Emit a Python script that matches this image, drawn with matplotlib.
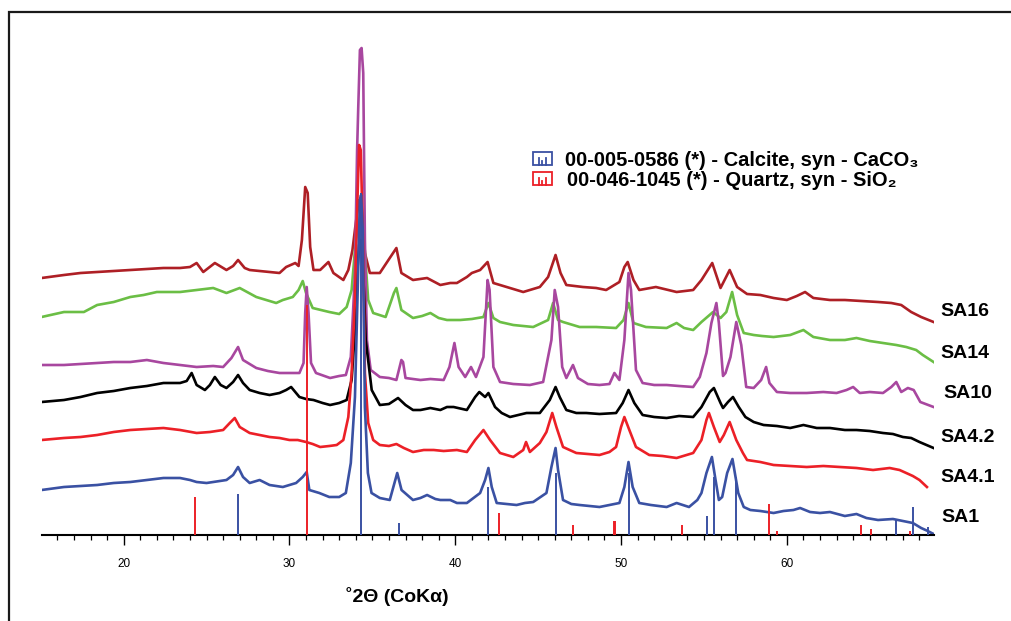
import numpy as np
import matplotlib
matplotlib.use("Agg")
import matplotlib.pyplot as plt
from matplotlib.patches import Rectangle
from matplotlib.lines import Line2D
from matplotlib.ticker import MultipleLocator

plt.rcParams["font.family"] = ["Liberation Sans", "DejaVu Sans"]

# ---------------- data ----------------
sample_names = ["SA16", "SA14", "SA10", "SA4.2", "SA4.1", "SA1"]
sample_colors = ["#AE1F25", "#6BBE45", "#A8479F", "#000000", "#EC2027", "#3A51A3"]
stack_offsets = [208, 170, 120, 83, 45, -5]

sa1_x = [15.05,16.4,17.4,18.4,19.4,20.4,21.4,22.4,23.4,24.0,24.4,25.0,25.4,26.2,26.6,26.9,27.2,27.6,28.2,28.8,
         29.6,30.4,30.8,31.04,31.2,31.8,32.4,33.0,33.4,33.7,33.95,34.1,34.25,34.32,34.42,34.55,34.73,34.95,35.45,36.05,
         36.3,36.5,36.76,37.45,37.9,38.3,38.8,39.1,39.7,40.1,40.7,41.5,41.8,42.0,42.2,42.5,43.1,43.7,44.2,44.7,
         45.5,45.8,46.05,46.2,46.5,47.0,47.5,48.1,48.7,49.3,49.9,50.2,50.45,50.7,51.1,51.8,52.75,53.35,54.1,54.6,
         54.85,55.15,55.48,55.7,55.9,56.1,56.4,56.72,57.07,57.4,57.8,58.4,59.2,59.8,60.4,60.8,61.4,62.0,62.6,63.5,
         64.2,64.8,65.5,66.4,67.0,67.6,68.1,68.5,68.85]
sa1_y = [50,53,54,55,57,58,60,62,62,60,58,57,58,60,65,73,63,57,60,55,
         53,57,63,68,50,47,43,43,47,77,143,240,340,345,310,133,67,47,42,40,
         55,67,50,40,42,45,41,40,40,37,37,47,60,72,53,37,36,35,37,38,
         47,73,92,70,40,36,35,34,33,35,37,53,78,53,37,35,33,37,33,40,
         47,67,83,60,40,43,67,81,47,33,30,29,27,29,30,32,28,27,28,24,
         26,22,20,21,19,17,12,9,6]

sa41_x = [15.05,16.4,17.4,18.4,19.4,20.4,21.4,22.4,23.4,24.4,25.2,26.0,26.4,26.7,27.0,27.6,28.2,28.8,29.4,30.0,
          30.5,31.0,31.4,31.85,32.4,32.85,33.25,33.55,33.75,33.95,34.1,34.2,34.3,34.45,34.55,34.75,35.05,35.45,36.0,36.45,
          36.9,37.45,38.1,38.7,39.3,40.1,40.7,41.2,41.7,42.1,42.7,43.5,44.1,44.27,44.5,45.1,45.5,45.85,46.1,46.5,
          47.3,48.0,48.7,49.3,49.7,50.0,50.2,50.5,50.9,51.7,52.5,53.35,54.35,54.85,55.15,55.3,55.6,55.95,56.2,56.55,
          56.95,57.35,57.6,58.4,59.2,60.2,61.2,62.2,63.2,64.2,65.2,66.2,66.8,67.2,67.6,68.0,68.45]
sa41_y = [50,52,53,55,58,60,61,62,60,57,58,60,67,72,63,57,55,53,52,50,
          50,48,46,43,44,45,50,73,117,190,290,345,340,240,117,67,50,45,44,46,
          42,38,40,40,39,40,38,50,60,50,37,33,40,48,38,47,58,77,63,43,
          37,36,35,38,43,63,73,60,43,35,34,32,37,50,70,77,63,48,55,68,
          50,37,30,28,25,24,23,24,23,22,20,22,20,17,14,10,3]

sa42_x = [15.05,16.4,17.4,18.4,19.4,20.4,21.4,22.4,23.4,23.8,24.1,24.4,24.9,25.2,25.5,25.85,26.2,26.6,26.9,27.2,
          27.6,28.2,28.8,29.4,29.8,30.1,30.6,31.0,31.45,32.0,32.45,33.0,33.45,33.75,33.95,34.1,34.2,34.3,34.45,34.6,
          34.96,35.45,36.0,36.55,37.0,37.45,37.9,38.5,39.1,39.5,39.9,40.7,41.2,41.45,41.8,42.0,42.4,42.8,43.3,44.3,
          45.1,45.7,46.05,46.3,46.7,47.3,47.9,48.7,49.7,50.1,50.45,50.8,51.3,52.0,52.75,53.5,54.35,54.85,55.35,55.6,
          56.0,56.15,56.45,56.75,57.1,57.5,58.0,58.6,59.4,60.2,61.0,61.8,62.6,63.5,64.2,65.0,65.8,66.4,67.0,67.5,
          68.0,68.85]
sa42_y = [50,52,55,59,61,64,66,69,69,71,79,67,62,67,75,67,64,70,77,69,
          62,59,57,59,62,65,55,53,52,49,47,49,52,72,122,182,207,212,179,112,
          62,47,48,54,47,42,42,44,42,45,45,42,55,60,55,59,45,39,35,39,
          39,52,65,55,42,39,39,38,39,49,62,49,37,35,34,36,35,45,60,64,
          49,44,50,55,45,35,30,27,26,24,27,24,24,22,22,21,19,18,15,14,
          10,4]

sa10_x = [15.05,16.4,17.4,18.4,19.4,20.4,21.4,22.4,23.4,24.4,25.4,26.0,26.5,26.9,27.2,28.0,28.7,29.4,30.0,30.6,
          30.85,30.95,31.04,31.15,31.3,31.6,32.45,33.0,33.4,33.7,33.95,34.08,34.15,34.25,34.35,34.45,34.55,34.67,34.9,35.45,
          36.0,36.45,36.75,36.85,37.0,37.9,38.5,39.3,39.65,39.95,40.2,40.6,40.95,41.25,41.7,41.95,42.07,42.3,42.7,43.5,
          44.5,45.3,45.8,46.0,46.2,46.45,46.7,47.1,47.4,48.0,48.7,49.3,49.6,49.9,50.2,50.45,50.6,50.9,51.3,52.0,
          52.75,53.5,54.35,54.75,55.15,55.45,55.75,55.9,56.15,56.3,56.6,56.95,57.25,57.55,58.0,58.45,58.75,58.95,59.4,60.2,
          61.2,62.2,63.0,63.6,64.0,64.4,65.0,65.8,66.3,66.6,66.9,67.3,67.65,68.05,68.85]
sa10_y = [50,50,51,52,53,53,55,52,50,48,49,48,57,68,55,47,44,42,42,42,
          52,102,128,102,52,42,37,39,40,58,142,265,308,365,367,342,175,75,45,38,
          37,35,55,53,37,35,36,35,48,72,48,38,48,38,58,135,125,48,33,31,
          30,33,75,125,108,48,37,50,37,31,30,31,42,35,75,142,125,45,32,30,
          30,29,28,38,62,92,112,92,39,42,58,93,70,28,27,35,48,32,23,22,
          22,23,22,25,28,22,23,22,28,33,23,27,25,13,8]

sa14_x = [15.05,16.4,17.6,18.4,19.4,20.4,21.2,22.0,23.4,24.4,25.4,26.2,27.0,28.0,28.6,29.2,29.6,30.2,30.55,30.8,
          31.0,31.4,32.4,33.0,33.45,33.75,34.0,34.3,34.5,34.75,35.05,35.8,36.3,36.45,36.75,37.45,38.0,38.5,39.0,39.5,
          40.3,41.0,41.7,42.0,42.3,42.7,43.5,44.7,45.6,45.9,46.2,46.5,47.5,48.5,49.7,50.15,50.45,50.75,51.5,52.75,
          53.35,53.8,54.35,54.85,55.55,56.0,56.35,56.7,57.0,57.4,58.0,58.5,59.2,60.2,61.0,61.6,62.6,63.5,64.2,65.0,
          65.8,66.6,67.2,67.8,68.2,68.85]
sa14_y = [48,53,53,60,63,68,70,73,73,75,77,72,77,68,65,62,65,68,75,84,
          72,57,53,51,58,75,125,153,125,65,52,48,72,77,55,47,49,52,47,45,
          45,46,48,62,47,43,40,38,45,62,45,43,38,38,37,45,62,42,38,37,
          42,37,35,43,53,47,53,73,50,32,30,29,28,30,35,28,25,25,27,24,
          22,20,18,15,10,3]

sa16_x = [15.05,16.4,17.4,18.4,19.4,20.4,21.4,22.4,23.4,24.0,24.4,24.8,25.5,26.2,26.6,26.9,27.3,27.6,28.2,28.8,
          29.4,29.8,30.35,30.55,30.75,30.95,31.1,31.25,31.45,31.85,32.35,32.65,33.25,33.55,33.8,34.0,34.2,34.35,34.55,34.85,
          35.45,36.25,36.45,36.75,37.45,38.3,39.1,39.7,40.1,40.7,41.0,41.5,41.95,42.3,43.3,44.1,45.1,45.6,46.05,46.35,
          46.7,47.7,48.5,49.1,49.9,50.2,50.4,50.75,51.1,52.1,53.35,54.35,54.85,55.5,56.0,56.55,57.0,57.6,58.4,59.2,
          60.0,60.6,61.1,61.6,62.6,63.5,64.5,65.5,66.3,66.9,67.5,68.1,68.85]
sa16_y = [49,52,54,55,56,57,58,59,59,60,64,55,64,57,61,67,59,57,56,55,
          54,60,64,61,87,140,134,80,57,57,65,54,47,57,77,104,127,122,74,54,
          54,74,79,54,47,49,42,44,44,50,54,57,65,44,39,35,40,50,72,54,
          42,40,39,37,45,60,65,47,37,40,35,37,47,64,39,57,40,33,32,29,
          27,31,35,29,27,27,26,25,24,22,15,10,5]

# reference patterns (2-theta, relative intensity %)
calcite_2theta = [26.9, 34.29, 36.62, 42.0, 46.08, 50.5, 55.2, 55.62, 56.92, 66.6, 67.6, 68.5]
calcite_rel = [12, 100, 3.5, 14, 18, 18, 5.5, 17, 17, 4.7, 8.2, 2.3]
quartz_2theta = [24.3, 31.04, 42.63, 47.08, 49.55, 49.65, 53.65, 58.9, 59.4, 64.5, 65.05, 67.4]
quartz_rel = [16.5, 100, 9.6, 4.3, 6, 6, 4.3, 13.5, 1.7, 4.3, 2.6, 1.7]

legend_labels = ["00-005-0586 (*) - Calcite, syn - CaCO\u2083",
                 "00-046-1045 (*) - Quartz, syn - SiO\u2082"]
x_label = "\u02da2\u0398 (CoK\u03b1)"
x_ticks = [20, 30, 40, 50, 60]

series_x = [sa16_x, sa14_x, sa10_x, sa42_x, sa41_x, sa1_x]
series_y = [sa16_y, sa14_y, sa10_y, sa42_y, sa41_y, sa1_y]

# ---------------- figure ----------------
W, H = 1012, 621
fig = plt.figure(figsize=(W / 100, H / 100), dpi=100)

def fx(px):
    return px / W

def fy(py):
    return 1 - py / H

ax = fig.add_axes([fx(41.6), fy(535), fx(934.4) - fx(41.6), fy(20) - fy(535)])
ax.set_xlim(15.05, 68.9)
ax.set_ylim(0, 515)
for s in ["left", "right", "top"]:
    ax.spines[s].set_visible(False)
ax.spines["bottom"].set_linewidth(1.5)
ax.set_yticks([])
ax.set_xticks(x_ticks)
ax.xaxis.set_minor_locator(MultipleLocator(1))
ax.tick_params(axis="x", which="major", length=7.5, width=1.0, labelsize=8.5, pad=9, direction="out")
ax.tick_params(axis="x", which="minor", length=3.8, width=0.9, direction="out")

for xs, ys, off, col in zip(series_x, series_y, stack_offsets, sample_colors):
    ax.plot(xs, np.array(ys) + off, color=col, lw=1.9, solid_joinstyle="round", zorder=2)

calcite_scale = 3.42
quartz_scale = 2.30
ax.vlines(calcite_2theta, 0, np.array(calcite_rel) * calcite_scale, colors="#3A51A3", lw=1.4, zorder=3)
ax.vlines(quartz_2theta, 0, np.array(quartz_rel) * quartz_scale, colors="#EC2027", lw=1.4, zorder=3)

# sample labels
label_pos = [(940, 311), (940, 353), (943, 394), (940, 437), (940, 477), (941, 517)]
for name, (px, py) in zip(sample_names, label_pos):
    fig.text(fx(px), fy(py), name, ha="left", va="center", fontsize=14, fontweight="bold")

# x label
fig.text(fx(397), fy(597), x_label, ha="center", va="center", fontsize=14, fontweight="bold")

# legend with stick icons
icon_boxes = [(533, 152, 19, 13), (533, 172, 19, 13)]
icon_cols = ["#3A51A3", "#EC2027"]
text_pos = [(565, 160), (567, 180)]
for (bx, by, bw, bh), col, lab, (tx, ty) in zip(icon_boxes, icon_cols, legend_labels, text_pos):
    fig.add_artist(Rectangle((fx(bx), fy(by + bh)), bw / W, bh / H, fill=False, ec=col, lw=1.3,
                             transform=fig.transFigure))
    for frac, hfrac in [(0.3, 0.55), (0.5, 0.3), (0.7, 0.55)]:
        xx = fx(bx + frac * bw)
        fig.add_artist(Line2D([xx, xx], [fy(by + bh), fy(by + bh - hfrac * bh)], color=col, lw=1.3,
                              transform=fig.transFigure))
    fig.text(fx(tx), fy(ty), lab, ha="left", va="center", fontsize=14.5, fontweight="bold")

# outer frame
fig.add_artist(Rectangle((fx(9), -0.05), 1.2, fy(12) + 0.05, fill=False, ec="#1a1a1a", lw=1.6,
                         transform=fig.transFigure))

fig.savefig("out.png", dpi=100)
